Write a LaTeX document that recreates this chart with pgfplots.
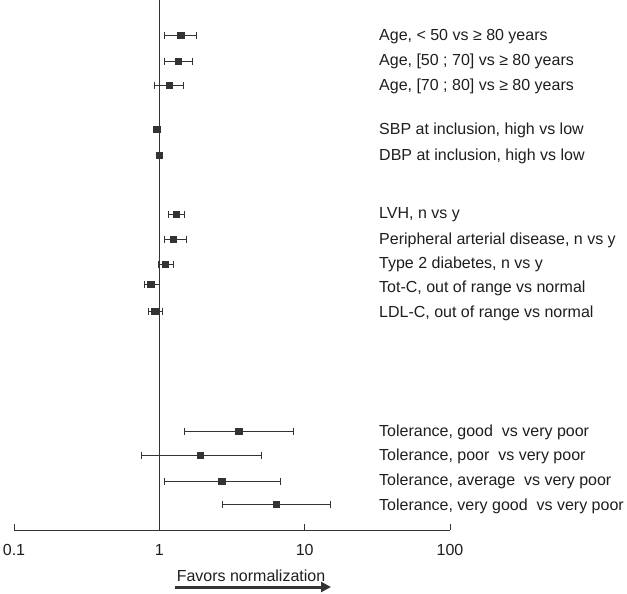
\documentclass[border=0pt]{standalone}
\usepackage{fontspec}
\setmainfont{Liberation Sans}
\usepackage{pgfplots}
\pgfplotsset{compat=1.18}
\usetikzlibrary{arrows.meta}
\definecolor{ink}{HTML}{333333}
\definecolor{txt}{HTML}{1E1E1E}
\begin{document}
\begin{tikzpicture}[font=\fontsize{16bp}{19bp}\selectfont, text=txt, lab/.style={anchor=base west, inner sep=0pt}]
\begin{axis}[
  xmode=log, xmin=0.1, xmax=100, ymin=0, ymax=530,
  scale only axis, width=436bp, height=530bp,
  axis y line=none, axis x line*=bottom,
  x axis line style={-, ink, line width=0.8bp},
  xtick={0.1,1,10,100}, xticklabels={0.1,1,10,100},
  xminorticks=false,
  tick align=inside, major tick length=6bp,
  tick style={ink, line width=0.8bp},
  xticklabel style={font=\fontsize{16bp}{19bp}\selectfont, text=txt, anchor=north, yshift=-10.5bp},
  clip=false,
]
% reference line at 1
\addplot[ink, line width=1.1bp, forget plot] coordinates {(1,0) (1,530)};
% confidence intervals
\addplot[ink, line width=1bp, mark=|, mark size=3.5bp, mark options={line width=1bp}, unbounded coords=jump] coordinates {
(1.09,495) (1.80,495) (nan,nan)
(1.09,469) (1.69,469) (nan,nan)
(0.93,445) (1.47,445) (nan,nan)
(0.95,401) (0.97,401) (nan,nan)
(0.99,375) (1.01,375) (nan,nan)
(1.16,316) (1.50,316) (nan,nan)
(1.08,291) (1.53,291) (nan,nan)
(0.98,266) (1.25,266) (nan,nan)
(0.785,246) (0.998,246) (nan,nan)
(0.84,219) (1.05,219) (nan,nan)
(1.49,99) (8.38,99) (nan,nan)
(0.75,75) (5.08,75) (nan,nan)
(1.09,49) (6.82,49) (nan,nan)
(2.74,26) (15.1,26)
};
% point estimates
\addplot[only marks, mark=square*, mark size=3.2bp, mark options={fill=ink, draw=ink}] coordinates {
(1.40,495) (1.35,469) (1.17,445) (0.96,401) (1.00,375)
(1.31,316) (1.25,291) (1.10,266) (0.87,246) (0.93,219)
(3.51,99) (1.92,75) (2.68,49) (6.34,26)
};
\end{axis}
% labels
\node[lab] at (365bp,489.5bp) {Age, < 50 vs ≥ 80 years};
\node[lab] at (365bp,464.5bp) {Age, [50 ; 70] vs ≥ 80 years};
\node[lab] at (365bp,439.5bp) {Age, [70 ; 80] vs ≥ 80 years};
\node[lab] at (365bp,395.5bp) {SBP at inclusion, high vs low};
\node[lab] at (365bp,369.5bp) {DBP at inclusion, high vs low};
\node[lab] at (365bp,311.5bp) {LVH, n vs y};
\node[lab] at (365bp,285.5bp) {Peripheral arterial disease, n vs y};
\node[lab] at (365bp,261.5bp) {Type 2 diabetes, n vs y};
\node[lab] at (365bp,237.5bp) {Tot-C, out of range vs normal};
\node[lab] at (365bp,212.5bp) {LDL-C, out of range vs normal};
\node[lab] at (365bp,93.5bp) {Tolerance, good\ \ vs very poor};
\node[lab] at (365bp,69.5bp) {Tolerance, poor\ \ vs very poor};
\node[lab] at (365bp,44.5bp) {Tolerance, average\ \ vs very poor};
\node[lab] at (365bp,19.5bp) {Tolerance, very good\ \ vs very poor};
% favors
\node[anchor=base] at (237bp,-51bp) {Favors normalization};
\draw[ink, line width=3bp, -{Triangle[length=10bp,width=10bp]}] (161bp,-57bp) -- (317bp,-57bp);
\pgfresetboundingbox
\path (-14bp,-64bp) rectangle (613bp,530bp);
\end{tikzpicture}
\end{document}
